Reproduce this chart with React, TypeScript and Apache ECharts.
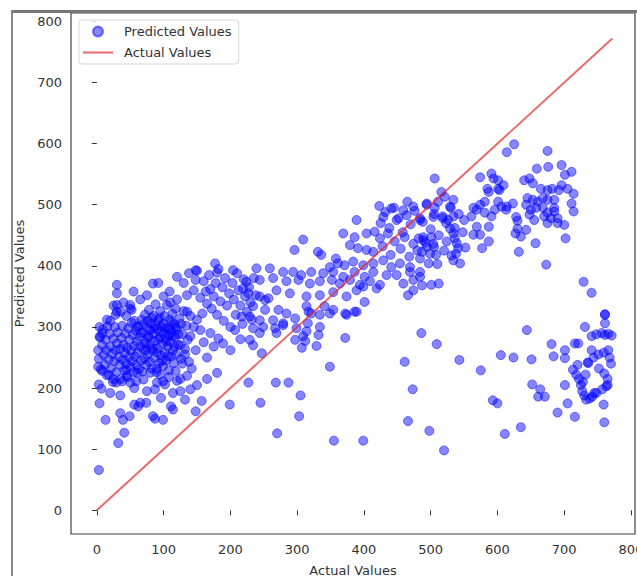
import React, { useEffect, useRef } from 'react';
import * as echarts from 'echarts';

const xTicks = [0, 100, 200, 300, 400, 500, 600, 700, 800];
const yTicks = [0, 100, 200, 300, 400, 500, 600, 700, 800];
const identityLine = [0, 772];

// [actual, predicted]
const denseLeftPoints: [number, number][] = [
  [2,262],[3,248],[5,283],[6,231],[8,270],[9,296],[10,254],[12,238],[13,279],[14,262],[15,221],[16,301],[18,247],[19,289],[20,268],[21,232],[23,256],[24,210],[25,281],[26,244],[27,300],[28,262],[29,226],[30,273],[31,291],[33,251],[34,238],[35,264],[36,215],[37,282],[38,302],[39,246],[40,271],[41,229],[42,257],[43,289],[44,240],[45,266],[46,218],[47,298],[48,251],[49,279],[50,235],[51,262],[52,307],[53,244],[54,287],[55,226],[56,269],[57,252],[58,294],[59,238],[60,276]
];
const denseCenterPoints: [number, number][] = [
  [61,258],[62,301],[63,231],[64,284],[65,268],[66,245],[67,312],[68,227],[69,291],[70,263],[71,248],[72,320],[73,276],[74,238],[75,299],[76,255],[77,284],[78,328],[79,243],[80,271],[81,306],[82,232],[83,262],[84,289],[85,318],[86,249],[87,277],[88,337],[89,226],[90,296],[91,265],[92,311],[93,241],[94,283],[95,326],[96,254],[97,301],[98,272],[99,236],[100,289],[101,318],[102,258],[103,281],[104,245],[105,336],[106,268],[107,298],[108,229],[109,312],[110,276],[111,252],[112,291],[113,322],[114,262],[115,241],[116,305],[117,283],[118,330],[119,255],[120,297],[122,271],[124,314],[126,248],[128,288],[130,326],[132,264],[134,302],[136,279],[138,243],[140,318]
];
const denseExtraPoints: [number, number][] = [
  [72,272],[76,310],[80,295],[84,265],[88,303],[92,280],[96,292],[100,305],[104,276],[108,286],[112,308],[116,268],[78,285],[86,298],[94,315],[102,298],[110,295],[82,315],[90,258],[98,245],[106,252],[114,285],[66,290],[70,305],[74,262],[118,300],[122,288],[126,305],[60,300],[56,310],[20,310],[15,312],[8,290],[4,300],[28,320],[44,318],[36,325],[52,328],[40,340],[25,335]
];
const upperLeftPoints: [number, number][] = [
  [30,369],[30,355],[55,358],[84,371],[92,372],[109,358],[148,393],[148,377],[177,404],[180,389],[204,393],[224,374],[30,336],[30,325],[50,336],[50,330],[4,284],
  [120,382],[130,372],[138,388],[145,360],[150,392],[155,348],[160,375],[163,358],[165,338],[168,385],[170,362],[172,330],[175,350],[178,372],[180,320],[182,395],[185,342],[188,365],[190,310],[192,380],[195,335],[198,355],[200,300],[203,372],[205,345],[208,320],[210,388],[212,360],[215,335],[218,305],[220,378],[222,350],[225,325],[228,365],[230,340],[232,312],[235,380],[238,352],
  [120,345],[135,352],[65,345],[75,352],[100,350],[110,340]
];
const lowerMidPoints: [number, number][] = [
  [125,270],[132,255],[140,285],[148,262],[155,295],[160,275],[165,250],[170,290],[175,268],[182,281],[189,273],[200,262],[207,295],[215,280],[234,270],[145,300],[150,312],[158,322],[135,325],[128,240],[142,232],[118,228],[125,215]
];
const lowLeftPoints: [number, number][] = [
  [3,206],[7,199],[4,175],[13,148],[3,66],[29,209],[38,211],[35,188],[32,110],[35,159],[39,148],[41,127],[49,154],[50,209],[56,200],[59,211],[56,173],[62,170],[65,176],[74,176],[84,154],[87,150],[87,198],[90,209],[96,184],[99,148],[99,211],[102,206],[111,170],[114,165],[114,192],[132,181],[148,162],[157,179],[199,173],[227,209],[245,176],[2,235],
  [18,222],[25,215],[45,220],[70,214],[80,225],[95,222],[108,218],[120,212],[135,220],[150,205],[165,215],[180,225],[140,198],[125,195],[75,195],[20,192],[44,230],[8,228],[90,232],[60,225]
];
const scatteredLowPoints: [number, number][] = [
  [268,209],[287,209],[270,126],[305,188],[303,154],[355,114],[399,114],[466,146],[473,198],[498,130],[520,98],[593,180],[600,175],[611,125],[635,136],
  [509,272],[543,246],[575,229],[605,254],[624,250],[486,290],[461,243],[349,235],[307,266],[247,257],[329,269]
];
const bandPoints: [number, number][] = [
  [389,475],[423,498],[441,494],[459,491],[474,497],[494,502],[429,480],[449,475],[464,483],[484,478],[504,480],[369,453],[386,447],[404,453],[309,443],[416,456],[424,445],[436,453],[446,440],[461,447],[474,436],[489,442],[501,447],[379,434],[391,429],[404,426],[414,423],[296,426],[331,423],[336,418],[358,412],
  [349,398],[361,404],[371,401],[384,407],[399,401],[414,404],[429,409],[441,398],[454,404],[469,398],[484,412],[499,420],[494,431],[504,436],
  [239,396],[259,396],[279,390],[294,390],[306,385],[321,390],[339,388],[354,390],[369,382],[386,390],[401,382],[414,390],[434,385],[449,385],[469,390],[484,390],
  [244,377],[264,380],[284,375],[302,377],[319,371],[334,375],[352,377],[364,371],[379,377],[394,369],[409,375],[424,369],[459,371],[474,377],[484,382],
  [219,363],[227,355],[244,350],[257,347],[269,360],[289,355],[314,350],[334,352],[354,357],[374,350],[389,360],[399,366],[419,363],[466,352],[474,360],
  [234,334],[252,344],[252,328],[272,328],[284,322],[314,334],[321,322],[341,334],[354,328],[374,320],[386,325],[401,341],[501,369],
  [217,317],[229,317],[244,311],[264,311],[279,306],[297,314],[317,325],[334,320],[349,322],[372,322],[389,325],
  [234,298],[249,300],[267,298],[279,303],[299,298],[316,306],[334,300],
  [229,279],[244,290],[269,290],[297,279],[309,285],[314,293],[332,287],[372,282],[312,277]
];
const upperMidPoints: [number, number][] = [
  [425,470],[432,488],[438,462],[445,495],[452,478],[458,455],[465,505],[470,468],[476,490],[482,445],[488,472],[494,500],[500,460],[505,485],[512,450],[518,478],[524,440],[530,495],[536,462],[542,485],[548,455],[552,430],[428,432],[440,418],[455,428],[468,415],[480,425],[492,438],[508,418],[520,425],[538,420],[550,475]
];
const upperRightPoints: [number, number][] = [
  [625,599],[614,586],[675,588],[506,543],[574,545],[591,551],[594,543],[601,540],[609,532],[601,526],[585,526],[603,524],[587,521],[659,559],[676,562],[696,565],[711,554],[701,549],[640,540],[648,543],[653,535],[665,526],[675,524],[682,526],[692,524],[705,526],[696,532],[714,518],[711,502],[714,489],[645,511],[653,508],[660,505],[668,511],[675,508],[685,508],[643,500],[650,492],[658,495],[668,495],[675,487],[685,495],[648,484],[655,475],[670,481],[680,478],[690,478],[685,489],[675,470],[690,470],[700,467],[702,445],[657,437],[632,423],[673,402],[729,374],[741,356],[761,321],
  [623,502],[614,497],[630,461],[627,453],[635,448],[643,459],[601,505],[606,497],[613,492],[630,474],[628,480],[574,500],[581,505],[569,492],[581,487],[591,481],[596,492],[564,495],[561,481],[569,464],[574,451],[564,451],[587,464],[587,440],[577,429],
  [534,508],[529,497],[534,481],[526,475],[516,521],[521,513],[511,505],[506,495],[518,481],[523,470],[529,461],[534,453],[536,445],[539,437],[541,429],[544,404],[531,417],[534,409],[497,404],[510,403],[512,371],[487,368],[505,431],[484,475],[489,447],[487,423]
];
const rightLowPoints: [number, number][] = [
  [644,295],[651,247],[652,206],[664,198],[671,186],[661,186],[681,272],[684,252],[690,160],[701,262],[701,249],[701,205],[705,175],[716,273],[721,273],[716,153],[731,300],[713,230],[718,222],[722,215],[725,205],[727,195],[730,188],[733,181],[742,186],[720,238],[735,242],[741,285],[748,288],[756,290],[761,287],[766,289],[771,286],[761,320],[761,306],[741,262],[744,250],[751,255],[759,258],[766,262],[768,250],[736,241],[760,224],[765,215],[765,205],[757,198],[745,192],[738,183],[759,173],[760,144],[748,192],[763,203],[728,210],[732,222],[752,232],[770,240]
];

const scatterData = [
  ...denseLeftPoints, ...denseCenterPoints, ...denseExtraPoints, ...upperLeftPoints,
  ...lowerMidPoints, ...lowLeftPoints, ...scatteredLowPoints, ...bandPoints,
  ...upperMidPoints, ...upperRightPoints, ...rightLowPoints,
];

const FONT = 'DejaVu Sans';
const TEXT = '#333';
const LINE_COLOR = 'rgba(230,40,40,0.7)';

export default function App() {
  const ref = useRef<HTMLDivElement>(null);
  useEffect(() => {
    const chart = echarts.init(ref.current!, null, { renderer: 'svg' });
    chart.setOption({
      animation: false,
      backgroundColor: '#fff',
      grid: { left: 71, top: 13, right: 2, bottom: 42, containLabel: false, outerBoundsMode: 'none' },
      xAxis: {
        type: 'value', min: -38.75, max: 806,
        axisLine: { show: false },
        splitLine: { show: false },
        axisTick: { show: true, customValues: xTicks, length: 5, lineStyle: { color: TEXT, width: 1 } },
        axisLabel: { customValues: xTicks, margin: 9, color: TEXT, fontSize: 13, fontFamily: FONT },
        name: 'Actual Values', nameLocation: 'middle', nameGap: 30,
        nameTextStyle: { color: TEXT, fontSize: 13, fontFamily: FONT },
      },
      yAxis: {
        type: 'value', min: -38.75, max: 813.75,
        axisLine: { show: false },
        splitLine: { show: false },
        axisTick: { show: true, customValues: yTicks, length: 5, lineStyle: { color: TEXT, width: 1 } },
        axisLabel: { customValues: yTicks, margin: 9, color: TEXT, fontSize: 13, fontFamily: FONT },
        name: 'Predicted Values', nameLocation: 'middle', nameGap: 44, nameRotate: 90,
        nameTextStyle: { color: TEXT, fontSize: 13, fontFamily: FONT },
      },
      legend: {
        left: 79, top: 20, orient: 'vertical',
        itemWidth: 30, itemHeight: 10, itemGap: 8,
        padding: [5, 7, 5, 4],
        backgroundColor: 'rgba(255,255,255,0.85)',
        borderColor: '#d6d6d6', borderWidth: 1, borderRadius: 3,
        textStyle: { fontSize: 13, color: TEXT, fontFamily: FONT, padding: [0, 0, 0, 6] },
        data: [
          { name: 'Predicted Values', icon: 'circle' },
          { name: 'Actual Values', icon: 'path://M0,0 H30 V2 H0 Z', itemStyle: { color: LINE_COLOR } },
        ],
      },
      series: [
        {
          name: 'Predicted Values', type: 'scatter', symbolSize: 9, z: 2,
          itemStyle: { color: 'rgba(0,0,255,0.6)', borderColor: 'rgba(0,0,255,0.6)', borderWidth: 1 },
          data: scatterData,
        },
        {
          name: 'Actual Values', type: 'line', symbol: 'none', showSymbol: false, z: 3,
          lineStyle: { color: LINE_COLOR, width: 2 },
          itemStyle: { color: LINE_COLOR },
          data: identityLine.map((v) => [v, v]),
        },
      ],
      graphic: [
        { type: 'rect', silent: true, z: 10, shape: { x: 71, y: 13, width: 564, height: 521 }, style: { fill: 'none', stroke: '#444', lineWidth: 1.2 } },
        { type: 'line', silent: true, z: 10, shape: { x1: 12, y1: 10, x2: 12, y2: 576 }, style: { stroke: '#888', lineWidth: 2 } },
        { type: 'line', silent: true, z: 10, shape: { x1: 12, y1: 11.5, x2: 637, y2: 11.5 }, style: { stroke: '#777', lineWidth: 3 } },
      ],
    });
    return () => chart.dispose();
  }, []);
  return <div ref={ref} style={{ position: 'fixed', left: 0, top: 0, width: 637, height: 576, background: '#fff' }} />;
}
